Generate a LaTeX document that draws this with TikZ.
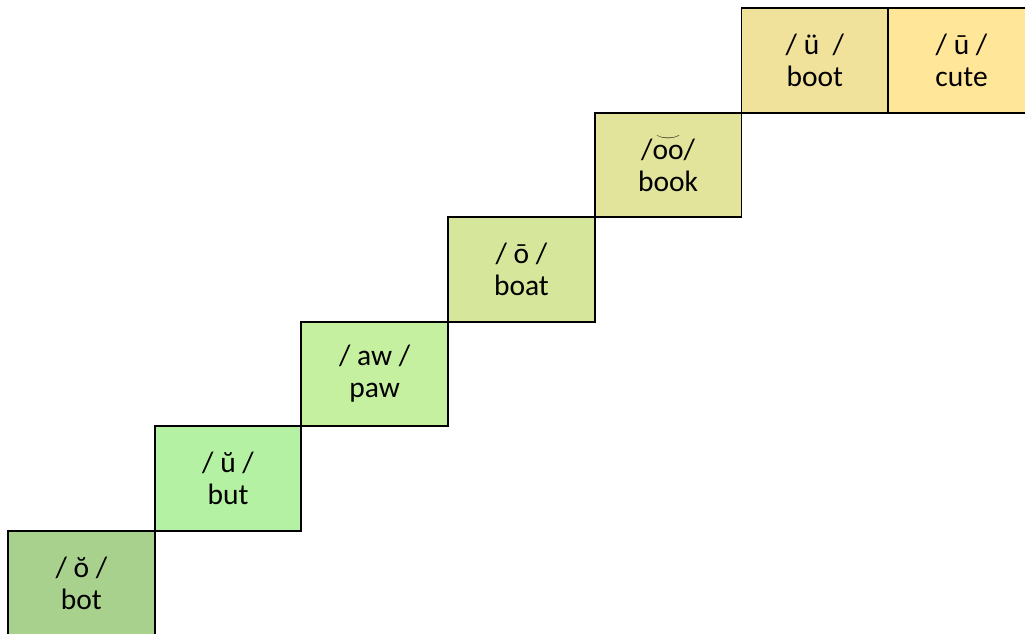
\documentclass[tikz,border=0pt]{standalone}
\usepackage{fontspec}
\setmainfont{Carlito}
\usepackage{xcolor}
\usetikzlibrary{positioning}

\definecolor{BotGreen}{RGB}{169,209,142}
\definecolor{ButGreen}{RGB}{181,241,162}
\definecolor{PawGreen}{RGB}{197,240,160}
\definecolor{BoatGreen}{RGB}{214,230,154}
\definecolor{BookYellow}{RGB}{226,228,156}
\definecolor{BootYellow}{RGB}{240,226,154}
\definecolor{CuteYellow}{RGB}{255,230,153}

% tie over two letters
\newcommand{\tiedoo}{\ooalign{oo\cr\hidewidth\raisebox{1.3ex}{\scalebox{1.05}[0.55]{$\smile$}}\hidewidth\cr}}

\begin{document}
\begin{tikzpicture}[x=1pt, y=1pt, line width=1.9pt, color=black,
      every node/.append style={font=\fontsize{29.5}{32}\selectfont, align=center}]
      \tikzstyle{stair} = [draw=black, rectangle, inner sep=0pt, outer sep=0pt,
                           minimum width=146.7pt, minimum height=104.6pt]
      \useasboundingbox (0,0) rectangle (1025,633);
      \node (bot) [stair, fill=BotGreen, anchor=south west] at (8,-2.6) {/ ŏ /\\bot};
      \node (but) [stair, fill=ButGreen, above right=0pt and 0pt of bot] {/ ŭ /\\but};
      \node (paw) [stair, fill=PawGreen, above right=0pt and 0pt of but] {/ aw /\\paw};
      \node (boat) [stair, fill=BoatGreen, above right=0pt and 0pt of paw] {/ ō /\\boat};
      \node (book) [stair, fill=BookYellow, above right=0pt and 0pt of boat] {/\tiedoo/\\book};
      \node (boot) [stair, fill=BootYellow, above right=0pt and 0pt of book] {/ ü \ /\\boot};
      \node (cute) [stair, fill=CuteYellow, right=0pt of boot] {/ ū /\\cute};
\end{tikzpicture}
\end{document}
